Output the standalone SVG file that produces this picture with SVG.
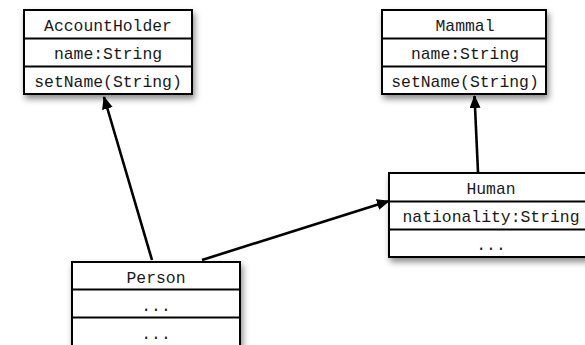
<svg xmlns="http://www.w3.org/2000/svg" width="585" height="345" viewBox="0 0 585 345">
<style>
.box{fill:#fff;stroke:#000;stroke-width:2}
.div{stroke:#000;stroke-width:2}
.t{font-family:"Liberation Mono","Courier New",monospace;font-size:16.4px;fill:#1a1a1a;text-anchor:middle}
.c{stroke:#000;stroke-width:2.6;fill:none}
</style>
<defs>
<filter id="sh" x="-10%" y="-10%" width="130%" height="140%">
<feDropShadow dx="2" dy="4" stdDeviation="3" flood-color="#000" flood-opacity="0.45"/>
</filter>
<marker id="ah" markerWidth="13" markerHeight="11" refX="12" refY="5.5" orient="auto" markerUnits="userSpaceOnUse">
<path d="M0,0 L13,5.5 L0,11 Z" fill="#000"/>
</marker>
</defs>
<g id="AccountHolder">
<rect class="box" x="24" y="10" width="168" height="84" filter="url(#sh)"/>
<line class="div" x1="24" y1="38.5" x2="192" y2="38.5"/>
<line class="div" x1="24" y1="66.5" x2="192" y2="66.5"/>
<text class="t" x="108" y="31">AccountHolder</text>
<text class="t" x="108" y="59">name:String</text>
<text class="t" x="108" y="87">setName(String)</text>
</g>
<g id="Mammal">
<rect class="box" x="382" y="10" width="164" height="84" filter="url(#sh)"/>
<line class="div" x1="382" y1="38.5" x2="546" y2="38.5"/>
<line class="div" x1="382" y1="66.5" x2="546" y2="66.5"/>
<text class="t" x="465" y="31">Mammal</text>
<text class="t" x="465" y="59">name:String</text>
<text class="t" x="465" y="87">setName(String)</text>
</g>
<g id="Human">
<rect class="box" x="389" y="173" width="204" height="84" filter="url(#sh)"/>
<line class="div" x1="389" y1="201.5" x2="593" y2="201.5"/>
<line class="div" x1="389" y1="229.5" x2="593" y2="229.5"/>
<text class="t" x="491" y="194">Human</text>
<text class="t" x="491" y="222">nationality:String</text>
<text class="t" x="491" y="250">...</text>
</g>
<g id="Person">
<rect class="box" x="72" y="262" width="168" height="86" filter="url(#sh)"/>
<line class="div" x1="72" y1="289.5" x2="240" y2="289.5"/>
<line class="div" x1="72" y1="317.5" x2="240" y2="317.5"/>
<text class="t" x="156" y="283">Person</text>
<text class="t" x="156" y="311">...</text>
<text class="t" x="156" y="339">...</text>
</g>
<g id="connectors">
<line class="c" x1="152" y1="260" x2="104" y2="97" marker-end="url(#ah)"/>
<line class="c" x1="202" y1="260" x2="389" y2="201" marker-end="url(#ah)"/>
<line class="c" x1="478" y1="172" x2="474.5" y2="96" marker-end="url(#ah)"/>
</g>
</svg>
